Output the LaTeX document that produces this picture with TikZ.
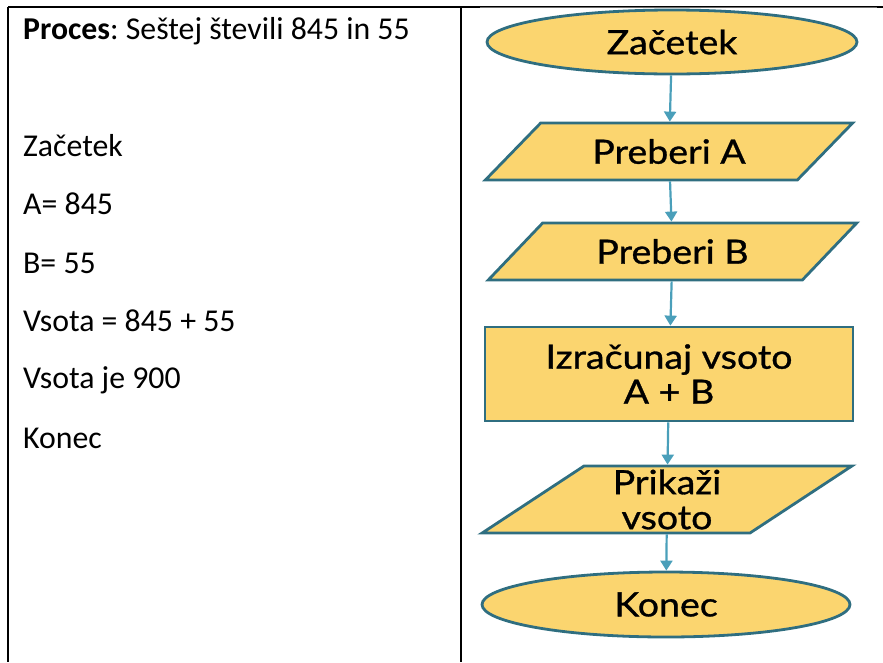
\documentclass[tikz,border=0pt]{standalone}
\usepackage{fontspec}
\setmainfont{Carlito}
\newfontfamily\chartfont[FakeStretch=1.12,FakeBold=0.9]{Lato}
\usetikzlibrary{shapes.geometric,arrows.meta}
\definecolor{boxfill}{HTML}{FBD56F}
\definecolor{boxline}{HTML}{2F6E80}
\definecolor{flowline}{HTML}{4A9FBA}
\definecolor{rulegray}{HTML}{707070}
\frenchspacing
\begin{document}
\begin{tikzpicture}[x=1pt,y=-1pt,
  cell/.style={anchor=base west, inner sep=0pt, font=\fontsize{31.8}{36}\selectfont},
  chart/.style={fill=boxfill, draw=boxline, line width=2.8pt, inner sep=0pt,
    font=\chartfont\fontsize{33.5}{35}\selectfont, align=center},
  term/.style={chart, ellipse, minimum width=370pt, minimum height=64pt},
  iobox/.style={chart, trapezium, trapezium stretches=true,
    trapezium left angle=#1, trapezium right angle=180-#1},
  procbox/.style={chart, rectangle, minimum width=368pt, minimum height=94pt},
  flow/.style={draw=flowline, line width=2.2pt,
    -{Triangle[width=12pt,length=10pt]}}
]
\useasboundingbox (0,0) rectangle (883,662);

% table rules
\draw[line width=2pt] (8,7) -- (883,7);
\draw[line width=2pt] (8,7) -- (8,662);
\draw[line width=2pt] (461,7) -- (461,662);
\draw[rulegray, line width=1pt] (480,7) -- (877,7);

% left column: the process in words
\node[cell] (title) at (23,39) {\textbf{Proces}: Seštej števili 845 in 55};
\node[cell] (l1) at (23,156) {Začetek};
\node[cell] (l2) at (23,214) {A= 845};
\node[cell] (l3) at (23,273) {B= 55};
\node[cell] (l4) at (23,331) {Vsota = 845 + 55};
\node[cell] (l5) at (23,388) {Vsota je 900};
\node[cell] (l6) at (23,448) {Konec};

% right column: flowchart
\node[term] (start) at (672,42) {Začetek};
\node[iobox=37, minimum width=368pt, minimum height=57pt] (inA) at (669,151.5) {Preberi A};
\node[iobox=38, minimum width=369pt, minimum height=57pt] (inB) at (672.5,251.5) {Preberi B};
\node[procbox] (sum) at (669,374) {Izračunaj vsoto\\A + B};
\node[iobox=42, minimum width=370pt, minimum height=67pt] (out) at (667,499.5) {Prikaži\\vsoto};
\node[term, minimum width=368pt, minimum height=65pt] (stop) at (666,604.5) {Konec};

\draw[flow] (start) -- (inA);
\draw[flow] (inA) -- (inB);
\draw[flow] (inB) -- (sum);
\draw[flow] (sum) -- (out);
\draw[flow] (out) -- (stop);
\end{tikzpicture}
\end{document}
